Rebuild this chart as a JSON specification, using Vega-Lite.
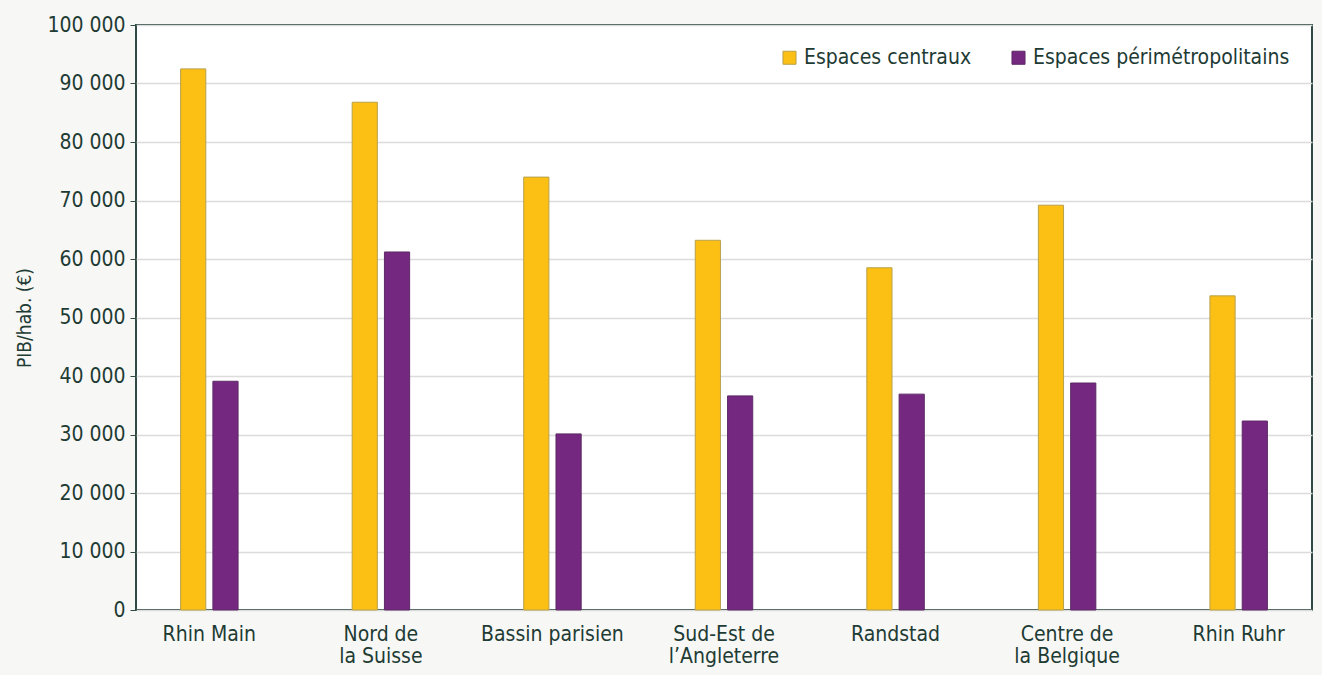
{
  "$schema": "https://vega.github.io/schema/vega-lite/v6.json",
  "width": 1176,
  "height": 585,
  "autosize": "none",
  "padding": {"left": 136, "top": 25, "right": 10, "bottom": 65},
  "background": "#f7f7f5",
  "config": {
    "font": "DejaVu Sans Condensed",
    "view": {"fill": "white", "stroke": "#2f4a44", "strokeWidth": 2},
    "axis": {"labelColor": "#1e3b34", "titleColor": "#1e3b34", "labelFont": "DejaVu Sans Condensed", "titleFont": "DejaVu Sans Condensed"},
    "legend": {"labelColor": "#1e3b34", "labelFont": "DejaVu Sans Condensed"}
  },
  "data": {
    "values": [
      {"region": "Rhin Main", "type": "Espaces centraux", "pib": 92500},
      {"region": "Rhin Main", "type": "Espaces périmétropolitains", "pib": 39100},
      {"region": "Nord de la Suisse", "type": "Espaces centraux", "pib": 86800},
      {"region": "Nord de la Suisse", "type": "Espaces périmétropolitains", "pib": 61200},
      {"region": "Bassin parisien", "type": "Espaces centraux", "pib": 74000},
      {"region": "Bassin parisien", "type": "Espaces périmétropolitains", "pib": 30100},
      {"region": "Sud-Est de l’Angleterre", "type": "Espaces centraux", "pib": 63200},
      {"region": "Sud-Est de l’Angleterre", "type": "Espaces périmétropolitains", "pib": 36600},
      {"region": "Randstad", "type": "Espaces centraux", "pib": 58500},
      {"region": "Randstad", "type": "Espaces périmétropolitains", "pib": 36900},
      {"region": "Centre de la Belgique", "type": "Espaces centraux", "pib": 69200},
      {"region": "Centre de la Belgique", "type": "Espaces périmétropolitains", "pib": 38800},
      {"region": "Rhin Ruhr", "type": "Espaces centraux", "pib": 53700},
      {"region": "Rhin Ruhr", "type": "Espaces périmétropolitains", "pib": 32300}
    ]
  },
  "mark": {"type": "bar", "strokeWidth": 1},
  "encoding": {
    "x": {
      "field": "region",
      "type": "nominal",
      "sort": null,
      "scale": {"paddingInner": 0.665, "paddingOuter": 0.26},
      "axis": {
        "title": null,
        "labelAngle": 0,
        "labelFontSize": 21,
        "labelLineHeight": 22,
        "labelPadding": 13,
        "ticks": false,
        "domain": false,
        "labelBaseline": "top",
        "labelExpr": "datum.value == 'Nord de la Suisse' ? ['Nord de', 'la Suisse'] : datum.value == 'Sud-Est de l’Angleterre' ? ['Sud-Est de', 'l’Angleterre'] : datum.value == 'Centre de la Belgique' ? ['Centre de', 'la Belgique'] : datum.value"
      }
    },
    "xOffset": {"field": "type", "type": "nominal", "scale": {"paddingInner": 0.22}},
    "y": {
      "field": "pib",
      "type": "quantitative",
      "scale": {"domain": [0, 100000], "nice": false},
      "axis": {
        "title": "PIB/hab. (€)",
        "titleFontSize": 19,
        "titleFontWeight": "normal",
        "titlePadding": 12,
        "labelFontSize": 21,
        "labelPadding": 5,
        "values": [0, 10000, 20000, 30000, 40000, 50000, 60000, 70000, 80000, 90000, 100000],
        "labelExpr": "replace(format(datum.value, ','), ',', ' ')",
        "tickColor": "#2f4a44",
        "tickSize": 6,
        "domain": false,
        "gridColor": "#dcdcdc",
        "gridWidth": 1.5
      }
    },
    "color": {
      "field": "type",
      "type": "nominal",
      "scale": {"domain": ["Espaces centraux", "Espaces périmétropolitains"], "range": ["#fcbf14", "#74287f"]},
      "legend": {
        "title": null,
        "orient": "top-right",
        "direction": "horizontal",
        "offset": 22,
        "labelFontSize": 21,
        "labelLimit": 400,
        "symbolType": "square",
        "symbolSize": 170,
        "symbolStrokeWidth": 1,
        "columnPadding": 36,
        "labelOffset": 4,
        "fillColor": "white"
      }
    },
    "stroke": {
      "field": "type",
      "type": "nominal",
      "scale": {"domain": ["Espaces centraux", "Espaces périmétropolitains"], "range": ["#b8a04a", "#5c2a66"]},
      "legend": null
    }
  }
}
